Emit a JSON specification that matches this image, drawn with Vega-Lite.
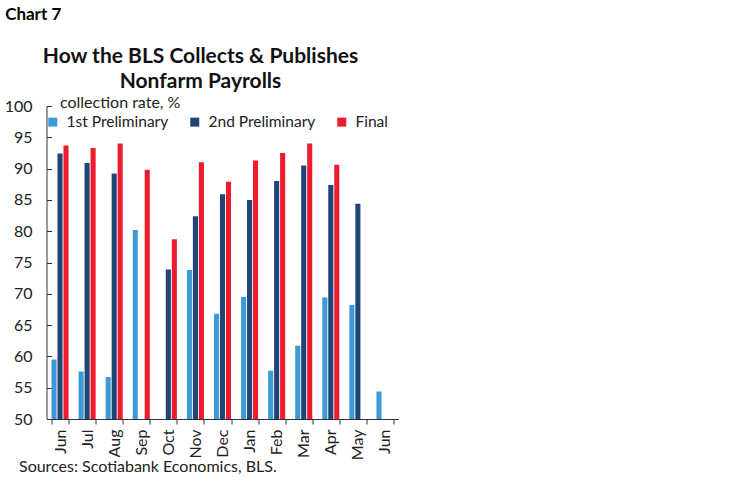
{
  "$schema": "https://vega.github.io/schema/vega-lite/v6.json",
  "background": "white",
  "padding": {"left": 3.5, "top": 5, "right": 5, "bottom": 5},
  "title": {"text": "Chart 7", "anchor": "start", "frame": "bounds", "fontSize": 17, "fontWeight": "bold", "font": "Lato", "color": "#000", "offset": 22, "dx": 1},
  "config": {
    "font": "Lato",
    "view": {"stroke": null},
    "axis": {"domainColor": "#333", "tickColor": "#333", "labelColor": "#222", "titleColor": "#222", "grid": false}
  },
  "data": {
    "values": [
      {"period": "Jun 25", "series": "1st Preliminary", "rate": 59.5},
      {"period": "Jun 25", "series": "2nd Preliminary", "rate": 92.4},
      {"period": "Jun 25", "series": "Final", "rate": 93.7},
      {"period": "Jul 25", "series": "1st Preliminary", "rate": 57.6},
      {"period": "Jul 25", "series": "2nd Preliminary", "rate": 90.9},
      {"period": "Jul 25", "series": "Final", "rate": 93.3},
      {"period": "Aug 25", "series": "1st Preliminary", "rate": 56.7},
      {"period": "Aug 25", "series": "2nd Preliminary", "rate": 89.2},
      {"period": "Aug 25", "series": "Final", "rate": 94.0},
      {"period": "Sep 25", "series": "1st Preliminary", "rate": 80.2},
      {"period": "Sep 25", "series": "Final", "rate": 89.8},
      {"period": "Oct 25", "series": "2nd Preliminary", "rate": 73.9},
      {"period": "Oct 25", "series": "Final", "rate": 78.7},
      {"period": "Nov 25", "series": "1st Preliminary", "rate": 73.8},
      {"period": "Nov 25", "series": "2nd Preliminary", "rate": 82.4},
      {"period": "Nov 25", "series": "Final", "rate": 91.0},
      {"period": "Dec 25", "series": "1st Preliminary", "rate": 66.8},
      {"period": "Dec 25", "series": "2nd Preliminary", "rate": 85.9},
      {"period": "Dec 25", "series": "Final", "rate": 87.9},
      {"period": "Jan 26", "series": "1st Preliminary", "rate": 69.5},
      {"period": "Jan 26", "series": "2nd Preliminary", "rate": 85.0},
      {"period": "Jan 26", "series": "Final", "rate": 91.3},
      {"period": "Feb 26", "series": "1st Preliminary", "rate": 57.7},
      {"period": "Feb 26", "series": "2nd Preliminary", "rate": 88.0},
      {"period": "Feb 26", "series": "Final", "rate": 92.5},
      {"period": "Mar 26", "series": "1st Preliminary", "rate": 61.7},
      {"period": "Mar 26", "series": "2nd Preliminary", "rate": 90.5},
      {"period": "Mar 26", "series": "Final", "rate": 94.0},
      {"period": "Apr 26", "series": "1st Preliminary", "rate": 69.4},
      {"period": "Apr 26", "series": "2nd Preliminary", "rate": 87.4},
      {"period": "Apr 26", "series": "Final", "rate": 90.6},
      {"period": "May 26", "series": "1st Preliminary", "rate": 68.2},
      {"period": "May 26", "series": "2nd Preliminary", "rate": 84.4},
      {"period": "Jun 26", "series": "1st Preliminary", "rate": 54.4}
    ]
  },
  "vconcat": [
    {
      "width": 352,
      "height": 313,
      "title": {
        "text": ["How the BLS Collects & Publishes", "Nonfarm Payrolls"],
        "anchor": "middle",
        "frame": "group",
        "dx": -22,
        "fontSize": 21,
        "fontWeight": "bold",
        "lineHeight": 25.5,
        "color": "#111",
        "offset": 2
      },
      "mark": {"type": "bar", "clip": true},
      "encoding": {
        "x": {
          "field": "period",
          "type": "ordinal",
          "sort": null,
          "scale": {"paddingInner": 0.37, "paddingOuter": 0.185},
          "axis": {
            "labelAngle": -90,
            "labelExpr": "split(datum.label, ' ')[0]",
            "labelFontSize": 16,
            "labelPadding": 5,
            "tickBand": "extent",
            "tickSize": 5,
            "title": "Sources: Scotiabank Economics, BLS.",
            "titleFontSize": 16,
            "titleFontWeight": "normal",
            "titleAnchor": "start",
            "titleAlign": "left",
            "titleBaseline": "alphabetic",
            "titleX": -28,
            "titleY": 52
          }
        },
        "xOffset": {
          "field": "series",
          "type": "nominal",
          "sort": ["1st Preliminary", "2nd Preliminary", "Final"],
          "scale": {"paddingInner": 0.15}
        },
        "y": {
          "field": "rate",
          "type": "quantitative",
          "scale": {"domain": [50, 100], "zero": false, "nice": false},
          "axis": {
            "values": [50, 55, 60, 65, 70, 75, 80, 85, 90, 95, 100],
            "labelFontSize": 16,
            "tickSize": -5,
            "labelPadding": 19.5,
            "title": "collection rate, %",
            "titleAngle": 0,
            "titleAlign": "left",
            "titleBaseline": "middle",
            "titleX": 13,
            "titleY": -4,
            "titleFontSize": 16,
            "titleFontWeight": "normal"
          }
        },
        "color": {
          "field": "series",
          "type": "nominal",
          "scale": {"domain": ["1st Preliminary", "2nd Preliminary", "Final"], "range": ["#3D9AD6", "#1F4478", "#EC1B2E"]},
          "legend": {
            "title": null,
            "orient": "none",
            "direction": "horizontal",
            "legendX": -1.5,
            "legendY": 8,
            "symbolType": "square",
            "symbolSize": 81,
            "symbolStrokeWidth": 0,
            "labelFontSize": 15.5,
            "labelColor": "#222",
            "labelOffset": 6,
            "columnPadding": 18
          }
        }
      }
    }
  ]
}
